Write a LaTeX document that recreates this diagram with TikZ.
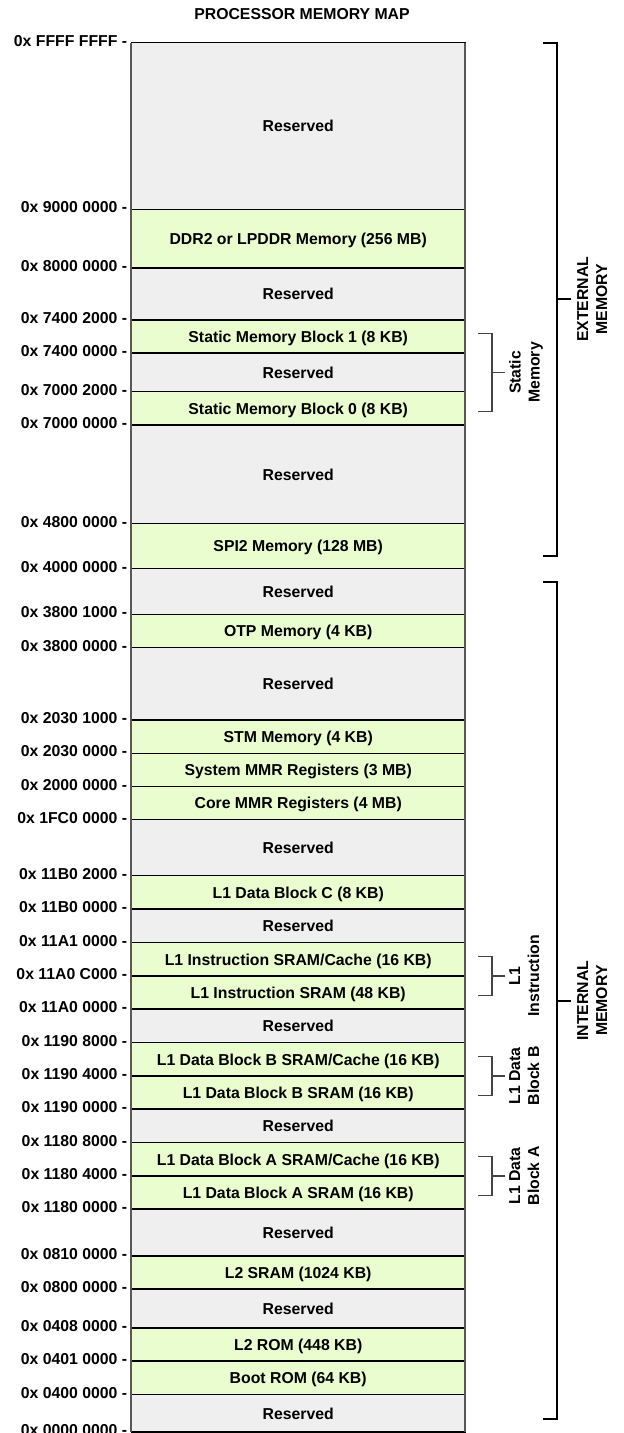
\documentclass[tikz,border=0pt]{standalone}
\usepackage{fontspec}
\setmainfont{Liberation Sans}
\usetikzlibrary{positioning}
\definecolor{resgray}{RGB}{239,239,239}
\definecolor{memgreen}{RGB}{234,253,206}
\definecolor{sidegray}{RGB}{88,88,88}
\definecolor{bracegray}{RGB}{68,68,68}
\tikzset{map font/.style={font=\fontsize{15.8}{19}\selectfont\bfseries},
  block/.style={map font,rectangle,draw=black,line width=1.2pt,minimum width=333.7pt,
    inner sep=0pt,outer sep=0pt,text height=11.3pt,text depth=0pt},
  res block/.style={block,fill=resgray},
  mem block/.style={block,fill=memgreen},
  addr node/.style={map font,inner sep=0pt,text height=11.3pt,text depth=0pt,yshift=2pt},
  side label/.style={map font,align=center,rotate=90,anchor=north,inner sep=0pt},
  small brace/.style={draw=bracegray,line width=1.3pt},
  big brace/.style={draw=black,line width=2pt},
}

\begin{document}
\begin{tikzpicture}[x=1pt,y=-1pt]
	\useasboundingbox (0,0) rectangle (624,1433);
	\node[map font,text height=11.3pt,text depth=0pt] (title) at (302,13.5) {PROCESSOR MEMORY MAP};
	
	% memory blocks, top to bottom
	\node[res block,minimum height=166.6pt,anchor=north] (r1) at (298.2,42.7) {Reserved};
	\node[mem block,minimum height=58.7pt] (ddr) [below=0pt of r1] {DDR2 or LPDDR Memory (256 MB)};
	\node[res block,minimum height=52pt] (r2) [below=0pt of ddr] {Reserved};
	\node[mem block,minimum height=33pt] (st1) [below=0pt of r2] {Static Memory Block 1 (8 KB)};
	\node[res block,minimum height=38.7pt] (r3) [below=0pt of st1] {Reserved};
	\node[mem block,minimum height=33.3pt] (st0) [below=0pt of r3] {Static Memory Block 0 (8 KB)};
	\node[res block,minimum height=98.7pt] (r4) [below=0pt of st0] {Reserved};
	\node[mem block,minimum height=45pt] (spi) [below=0pt of r4] {SPI2 Memory (128 MB)};
	\node[res block,minimum height=45.6pt] (r5) [below=0pt of spi] {Reserved};
	\node[mem block,minimum height=33.4pt] (otp) [below=0pt of r5] {OTP Memory (4 KB)};
	\node[res block,minimum height=72.3pt] (r6) [below=0pt of otp] {Reserved};
	\node[mem block,minimum height=33.3pt] (stm) [below=0pt of r6] {STM Memory (4 KB)};
	\node[mem block,minimum height=33.4pt] (smmr) [below=0pt of stm] {System MMR Registers (3 MB)};
	\node[mem block,minimum height=33pt] (cmmr) [below=0pt of smmr] {Core MMR Registers (4 MB)};
	\node[res block,minimum height=56pt] (r7) [below=0pt of cmmr] {Reserved};
	\node[mem block,minimum height=33.3pt] (l1c) [below=0pt of r7] {L1 Data Block C (8 KB)};
	\node[res block,minimum height=33.7pt] (r8) [below=0pt of l1c] {Reserved};
	\node[mem block,minimum height=33.3pt] (l1ic) [below=0pt of r8] {L1 Instruction SRAM/Cache (16 KB)};
	\node[mem block,minimum height=33pt] (l1is) [below=0pt of l1ic] {L1 Instruction SRAM (48 KB)};
	\node[res block,minimum height=33.7pt] (r9) [below=0pt of l1is] {Reserved};
	\node[mem block,minimum height=33.3pt] (l1bc) [below=0pt of r9] {L1 Data Block B SRAM/Cache (16 KB)};
	\node[mem block,minimum height=33pt] (l1bs) [below=0pt of l1bc] {L1 Data Block B SRAM (16 KB)};
	\node[res block,minimum height=33.7pt] (r10) [below=0pt of l1bs] {Reserved};
	\node[mem block,minimum height=33.3pt] (l1ac) [below=0pt of r10] {L1 Data Block A SRAM/Cache (16 KB)};
	\node[mem block,minimum height=33pt] (l1as) [below=0pt of l1ac] {L1 Data Block A SRAM (16 KB)};
	\node[res block,minimum height=47pt] (r11) [below=0pt of l1as] {Reserved};
	\node[mem block,minimum height=33pt] (l2s) [below=0pt of r11] {L2 SRAM (1024 KB)};
	\node[res block,minimum height=39pt] (r12) [below=0pt of l2s] {Reserved};
	\node[mem block,minimum height=33pt] (l2r) [below=0pt of r12] {L2 ROM (448 KB)};
	\node[mem block,minimum height=33.7pt] (boot) [below=0pt of l2r] {Boot ROM (64 KB)};
	\node[res block,minimum height=37.3pt] (r13) [below=0pt of boot] {Reserved};
	
	\draw[draw=sidegray,line width=2pt] (r1.north west) -- (r13.south west);
	\draw[draw=sidegray,line width=2pt] (r1.north east) -- (r13.south east);
	
	% addresses
	\node[addr node] (a1) [left=4pt of r1.north west] {0x FFFF FFFF -};
	\node[addr node] (a2) [left=4pt of ddr.north west] {0x 9000 0000 -};
	\node[addr node] (a3) [left=4pt of r2.north west] {0x 8000 0000 -};
	\node[addr node] (a4) [left=4pt of st1.north west] {0x 7400 2000 -};
	\node[addr node] (a5) [left=4pt of r3.north west] {0x 7400 0000 -};
	\node[addr node] (a6) [left=4pt of st0.north west] {0x 7000 2000 -};
	\node[addr node] (a7) [left=4pt of r4.north west] {0x 7000 0000 -};
	\node[addr node] (a8) [left=4pt of spi.north west] {0x 4800 0000 -};
	\node[addr node] (a9) [left=4pt of r5.north west] {0x 4000 0000 -};
	\node[addr node] (a10) [left=4pt of otp.north west] {0x 3800 1000 -};
	\node[addr node] (a11) [left=4pt of r6.north west] {0x 3800 0000 -};
	\node[addr node] (a12) [left=4pt of stm.north west] {0x 2030 1000 -};
	\node[addr node] (a13) [left=4pt of smmr.north west] {0x 2030 0000 -};
	\node[addr node] (a14) [left=4pt of cmmr.north west] {0x 2000 0000 -};
	\node[addr node] (a15) [left=4pt of r7.north west] {0x 1FC0 0000 -};
	\node[addr node] (a16) [left=4pt of l1c.north west] {0x 11B0 2000 -};
	\node[addr node] (a17) [left=4pt of r8.north west] {0x 11B0 0000 -};
	\node[addr node] (a18) [left=4pt of l1ic.north west] {0x 11A1 0000 -};
	\node[addr node] (a19) [left=4pt of l1is.north west] {0x 11A0 C000 -};
	\node[addr node] (a20) [left=4pt of r9.north west] {0x 11A0 0000 -};
	\node[addr node] (a21) [left=4pt of l1bc.north west] {0x 1190 8000 -};
	\node[addr node] (a22) [left=4pt of l1bs.north west] {0x 1190 4000 -};
	\node[addr node] (a23) [left=4pt of r10.north west] {0x 1190 0000 -};
	\node[addr node] (a24) [left=4pt of l1ac.north west] {0x 1180 8000 -};
	\node[addr node] (a25) [left=4pt of l1as.north west] {0x 1180 4000 -};
	\node[addr node] (a26) [left=4pt of r11.north west] {0x 1180 0000 -};
	\node[addr node] (a27) [left=4pt of l2s.north west] {0x 0810 0000 -};
	\node[addr node] (a28) [left=4pt of r12.north west] {0x 0800 0000 -};
	\node[addr node] (a29) [left=4pt of l2r.north west] {0x 0408 0000 -};
	\node[addr node] (a30) [left=4pt of boot.north west] {0x 0401 0000 -};
	\node[addr node] (a31) [left=4pt of r13.north west] {0x 0400 0000 -};
	\node[addr node] (a32) [left=4pt of r13.south west] {0x 0000 0000 -};
	
	% small brackets
	\node[side label] (stlab) at (509,372.4) {Static\\Memory};
	\draw[small brace] ([xshift=13pt,yshift=3pt]st1.east) -| ([xshift=27pt,yshift=-3pt]st0.east) -- ([xshift=13pt,yshift=-3pt]st0.east);
	\draw[small brace] ([xshift=-4pt]stlab.north) -- ++(-13pt,0);
	
	\node[side label] (ilab) at (509,975.9) {L1\\Instruction};
	\draw[small brace] ([xshift=13pt,yshift=3pt]l1ic.east) -| ([xshift=27pt,yshift=-3pt]l1is.east) -- ([xshift=13pt,yshift=-3pt]l1is.east);
	\draw[small brace] ([xshift=-4pt]ilab.north) -- ++(-13pt,0);
	
	\node[side label] (blab) at (509,1075.9) {L1 Data\\Block B};
	\draw[small brace] ([xshift=13pt,yshift=3pt]l1bc.east) -| ([xshift=27pt,yshift=-3pt]l1bs.east) -- ([xshift=13pt,yshift=-3pt]l1bs.east);
	\draw[small brace] ([xshift=-4pt]blab.north) -- ++(-13pt,0);
	
	\node[side label] (alab) at (509,1175.9) {L1 Data\\Block A};
	\draw[small brace] ([xshift=13pt,yshift=3pt]l1ac.east) -| ([xshift=27pt,yshift=-3pt]l1as.east) -- ([xshift=13pt,yshift=-3pt]l1as.east);
	\draw[small brace] ([xshift=-4pt]alab.north) -- ++(-13pt,0);
	
	% big brackets
	\node[side label] (extlab) at (577,299.2) {EXTERNAL\\MEMORY};
	\draw[big brace] ([xshift=78pt]r1.north east) -| ([xshift=92pt,yshift=13pt]spi.south east) -- ([xshift=78pt,yshift=13pt]spi.south east);
	\draw[big brace] ([xshift=-6pt]extlab.north) -- ++(-14pt,0);
	
	\node[side label] (intlab) at (577,1000.6) {INTERNAL\\MEMORY};
	\draw[big brace] ([xshift=78pt,yshift=-13.5pt]spi.south east) -| ([xshift=92pt,yshift=13pt]r13.south east) -- ([xshift=78pt,yshift=13pt]r13.south east);
	\draw[big brace] ([xshift=-6pt]intlab.north) -- ++(-14pt,0);
\end{tikzpicture}
\end{document}
